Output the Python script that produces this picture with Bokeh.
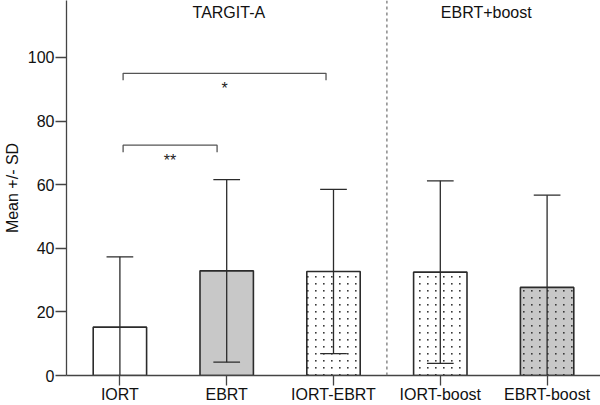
import base64
from bokeh.plotting import figure
from bokeh.models import FactorRange, Range1d, Span, FixedTicker, ColumnDataSource, ImageURLTexture
from bokeh.core.properties import value
from bokeh.embed import file_html
from bokeh.resources import INLINE

# ---- data ----
categories = ["IORT", "EBRT", "IORT-EBRT", "IORT-boost", "EBRT-boost"]
means = [15.2, 32.9, 32.7, 32.5, 27.7]
sds = [22.1, 28.7, 25.8, 28.7, 29.0]
fills = ["white", "#c8c8c8", "white", "white", "#c8c8c8"]
hatches = [" ", " ", "dots", "dots", "dots"]
y_ticks = [0, 20, 40, 60, 80, 100]

groups = ["TARGIT-A", "EBRT+boost"]
group_x = [1.52, 3.93]
group_y = [114.2, 114.2]

bracket_x0 = [0.53, 0.53]
bracket_x1 = [2.43, 1.41]
bracket_y = [95.0, 72.4]
bracket_drop = 2.2
bracket_labels = ["*", "**"]
bracket_label_y = [92.8, 70.3]
divider_x = 3.0

FONT = "Liberation Sans"
LINE = "#2b2b2b"
AX = "#444444"
FS = "16px"

dot_svg = ("<svg xmlns='http://www.w3.org/2000/svg' width='8' height='7'>"
           "<rect x='3' y='3' width='1.6' height='1.6' fill='#3a3a3a'/></svg>")
dot_url = "data:image/svg+xml;base64," + base64.b64encode(dot_svg.encode()).decode()

p = figure(x_range=FactorRange(*categories, range_padding=0, factor_padding=0),
           y_range=Range1d(0, 117.9),
           width=600, height=405, output_backend="svg", toolbar_location=None,
           min_border_left=65, min_border_right=0, min_border_top=0, min_border_bottom=28)
p.outline_line_color = None
p.xgrid.grid_line_color = None
p.ygrid.grid_line_color = None
p.background_fill_color = "white"
p.border_fill_color = "white"

# bars
src = ColumnDataSource(dict(x=categories, top=means, fill=fills, hatch=hatches))
p.vbar(x="x", top="top", bottom=0, width=0.5, source=src, fill_color="fill",
       line_color=LINE, line_width=1.6, hatch_pattern="hatch",
       hatch_extra={"dots": ImageURLTexture(url=dot_url)})

# error bars
xs = [i + 0.5 for i in range(len(categories))]
upper = [m + s for m, s in zip(means, sds)]
lower = [max(m - s, 0) for m, s in zip(means, sds)]
p.segment(x0=xs, y0=lower, x1=xs, y1=upper, line_color=LINE, line_width=1.3)
cap = 0.125
p.segment(x0=[x - cap for x in xs], y0=upper, x1=[x + cap for x in xs], y1=upper,
          line_color=LINE, line_width=1.3)
lx = [x for x, m, s in zip(xs, means, sds) if m - s > 0]
ly = [m - s for m, s in zip(means, sds) if m - s > 0]
p.segment(x0=[x - cap for x in lx], y0=ly, x1=[x + cap for x in lx], y1=ly,
          line_color=LINE, line_width=1.3)

# divider
p.add_layout(Span(location=divider_x, dimension="height", line_color="#777777",
                  line_width=1.3, line_dash="3 3"))

# brackets
for x0, x1, y in zip(bracket_x0, bracket_x1, bracket_y):
    p.line(x=[x0, x0, x1, x1], y=[y - bracket_drop, y, y, y - bracket_drop],
           line_color="#555555", line_width=1.3)
p.text(x=[(a + b) / 2 for a, b in zip(bracket_x0, bracket_x1)], y=bracket_label_y,
       text=bracket_labels, text_align="center", text_baseline="top",
       text_font=value(FONT), text_font_size=FS, text_color="#222222")

# group labels
p.text(x=group_x, y=group_y, text=groups, text_align="center", text_baseline="middle",
       text_font=value(FONT), text_font_size=FS, text_color="#111111")

# axes
for ax in (p.xaxis[0], p.yaxis[0]):
    ax.axis_line_color = AX
    ax.axis_line_width = 1.3
    ax.major_tick_line_color = AX
    ax.major_tick_line_width = 1.3
    ax.minor_tick_line_color = None
    ax.major_tick_in = 0
    ax.major_label_text_font = FONT
    ax.major_label_text_font_size = FS
    ax.major_label_text_color = "#111111"
    ax.major_label_text_line_height = 1.0
p.xaxis.major_tick_out = 10
p.xaxis.major_label_standoff = 0
p.xaxis.axis_label = None
p.xaxis.axis_label_standoff = 0
p.yaxis.major_tick_out = 11
p.yaxis.major_label_standoff = 1
p.yaxis.ticker = FixedTicker(ticks=y_ticks)
p.yaxis.axis_label = "Mean +/- SD"
p.yaxis.axis_label_text_font = FONT
p.yaxis.axis_label_text_font_style = "normal"
p.yaxis.axis_label_text_font_size = FS
p.yaxis.axis_label_text_color = "#111111"
p.yaxis.axis_label_text_line_height = 1.0
p.yaxis.axis_label_standoff = 4

open("out.html", "w").write(file_html(p, INLINE))
